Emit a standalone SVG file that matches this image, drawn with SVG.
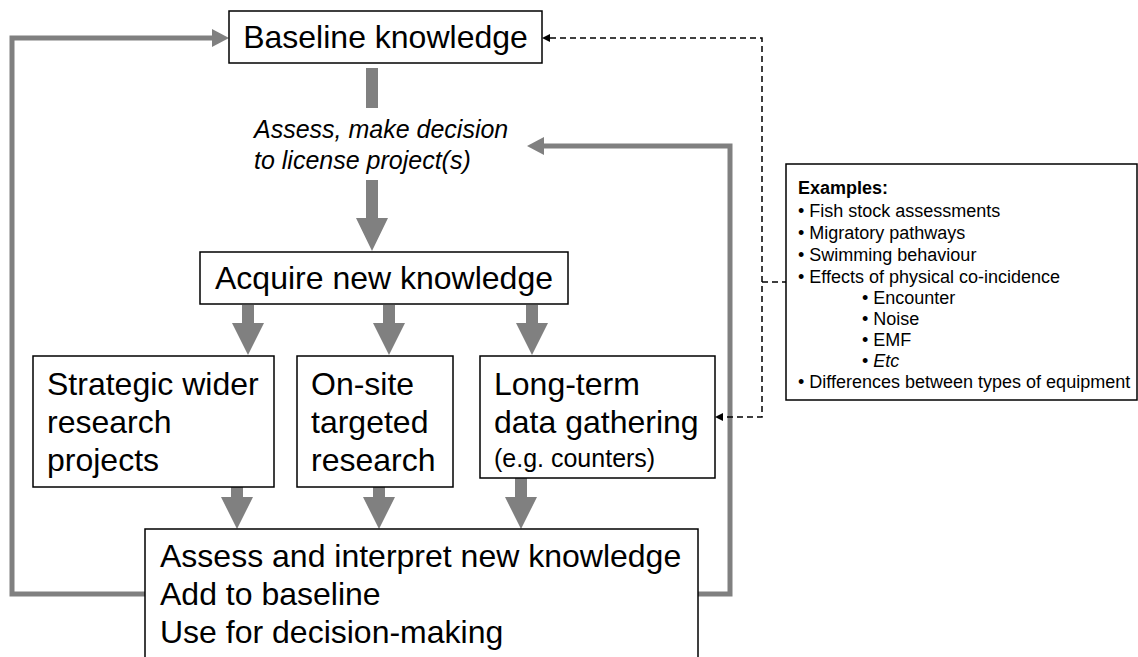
<svg xmlns="http://www.w3.org/2000/svg" width="1138" height="657" viewBox="0 0 1138 657">
<style>
  .box { fill: #fff; stroke: #000; stroke-width: 1.5; }
  .t { font-family: "Liberation Sans", Arial, sans-serif; font-size: 32px; fill: #000; }
  .it { font-family: "Liberation Sans", Arial, sans-serif; font-size: 25px; font-style: italic; fill: #000; }
  .sm { font-family: "Liberation Sans", Arial, sans-serif; font-size: 25px; fill: #000; }
  .ex { font-family: "Liberation Sans", Arial, sans-serif; font-size: 18px; fill: #000; }
  .loop { fill: none; stroke: #808080; stroke-width: 5; }
  .thick { fill: #808080; }
  .dash { fill: none; stroke: #000; stroke-width: 1.5; stroke-dasharray: 6 4; }
  .head { fill: #000; }
</style>
<g id="connectors">
  <path class="loop" d="M145,594 H12 V38 H214"/>
  <polygon class="thick" points="212,29 229,38 212,47"/>
  <path class="loop" d="M698,594 H730 V146 H542"/>
  <polygon class="thick" points="544,137 527,146 544,155"/>
  <rect class="thick" x="366" y="68" width="12" height="40"/>
  <polygon class="thick" points="366,180 378,180 378,218 388,218 372,251 356,218 366,218"/>
  <polygon class="thick" points="242,305 254,305 254,323 264,323 248,355 232,323 242,323"/>
  <polygon class="thick" points="383,305 395,305 395,323 405,323 389,355 373,323 383,323"/>
  <polygon class="thick" points="526,305 538,305 538,323 548,323 532,355 516,323 526,323"/>
  <polygon class="thick" points="231,487 243,487 243,497 253,497 237,529 221,497 231,497"/>
  <polygon class="thick" points="373,487 385,487 385,497 395,497 379,529 363,497 373,497"/>
  <polygon class="thick" points="515,478 527,478 527,497 537,497 521,529 505,497 515,497"/>
  <path class="dash" d="M550,38 H762 V417 H723"/>
  <path class="dash" d="M762,282 H786"/>
  <polygon class="head" points="550,34 542,38 550,42"/>
  <polygon class="head" points="723,413 715,417 723,421"/>
</g>
<g id="baseline">
  <rect class="box" x="229" y="11" width="313" height="52"/>
  <text class="t" x="385.5" y="48" text-anchor="middle">Baseline knowledge</text>
</g>
<g id="assess-decision">
  <text class="it" x="254" y="138">Assess, make decision</text>
  <text class="it" x="254" y="169">to license project(s)</text>
</g>
<g id="acquire">
  <rect class="box" x="200" y="252" width="368" height="52"/>
  <text class="t" x="384" y="289" text-anchor="middle">Acquire new knowledge</text>
</g>
<g id="strategic">
  <rect class="box" x="33" y="356" width="241" height="131"/>
  <text class="t" x="47" y="395">Strategic wider</text>
  <text class="t" x="47" y="433">research</text>
  <text class="t" x="47" y="471">projects</text>
</g>
<g id="onsite">
  <rect class="box" x="297" y="356" width="156" height="131"/>
  <text class="t" x="311" y="395">On-site</text>
  <text class="t" x="311" y="433">targeted</text>
  <text class="t" x="311" y="471">research</text>
</g>
<g id="longterm">
  <rect class="box" x="480" y="356" width="235" height="122"/>
  <text class="t" x="494" y="395">Long-term</text>
  <text class="t" x="494" y="433">data gathering</text>
  <text class="sm" x="494" y="467">(e.g. counters)</text>
</g>
<g id="assess-interpret">
  <rect class="box" x="145" y="529" width="553" height="160"/>
  <text class="t" x="160" y="567">Assess and interpret new knowledge</text>
  <text class="t" x="160" y="605">Add to baseline</text>
  <text class="t" x="160" y="643">Use for decision-making</text>
</g>
<g id="examples">
  <rect class="box" x="786" y="164" width="351" height="236"/>
  <text class="ex" x="798" y="194" font-weight="bold">Examples:</text>
  <text class="ex" x="798" y="217">• Fish stock assessments</text>
  <text class="ex" x="798" y="239">• Migratory pathways</text>
  <text class="ex" x="798" y="261">• Swimming behaviour</text>
  <text class="ex" x="798" y="283">• Effects of physical co-incidence</text>
  <text class="ex" x="862" y="304">• Encounter</text>
  <text class="ex" x="862" y="325">• Noise</text>
  <text class="ex" x="862" y="346">• EMF</text>
  <text class="ex" x="862" y="367">• <tspan font-style="italic">Etc</tspan></text>
  <text class="ex" x="798" y="388">• Differences between types of equipment</text>
</g>
</svg>
